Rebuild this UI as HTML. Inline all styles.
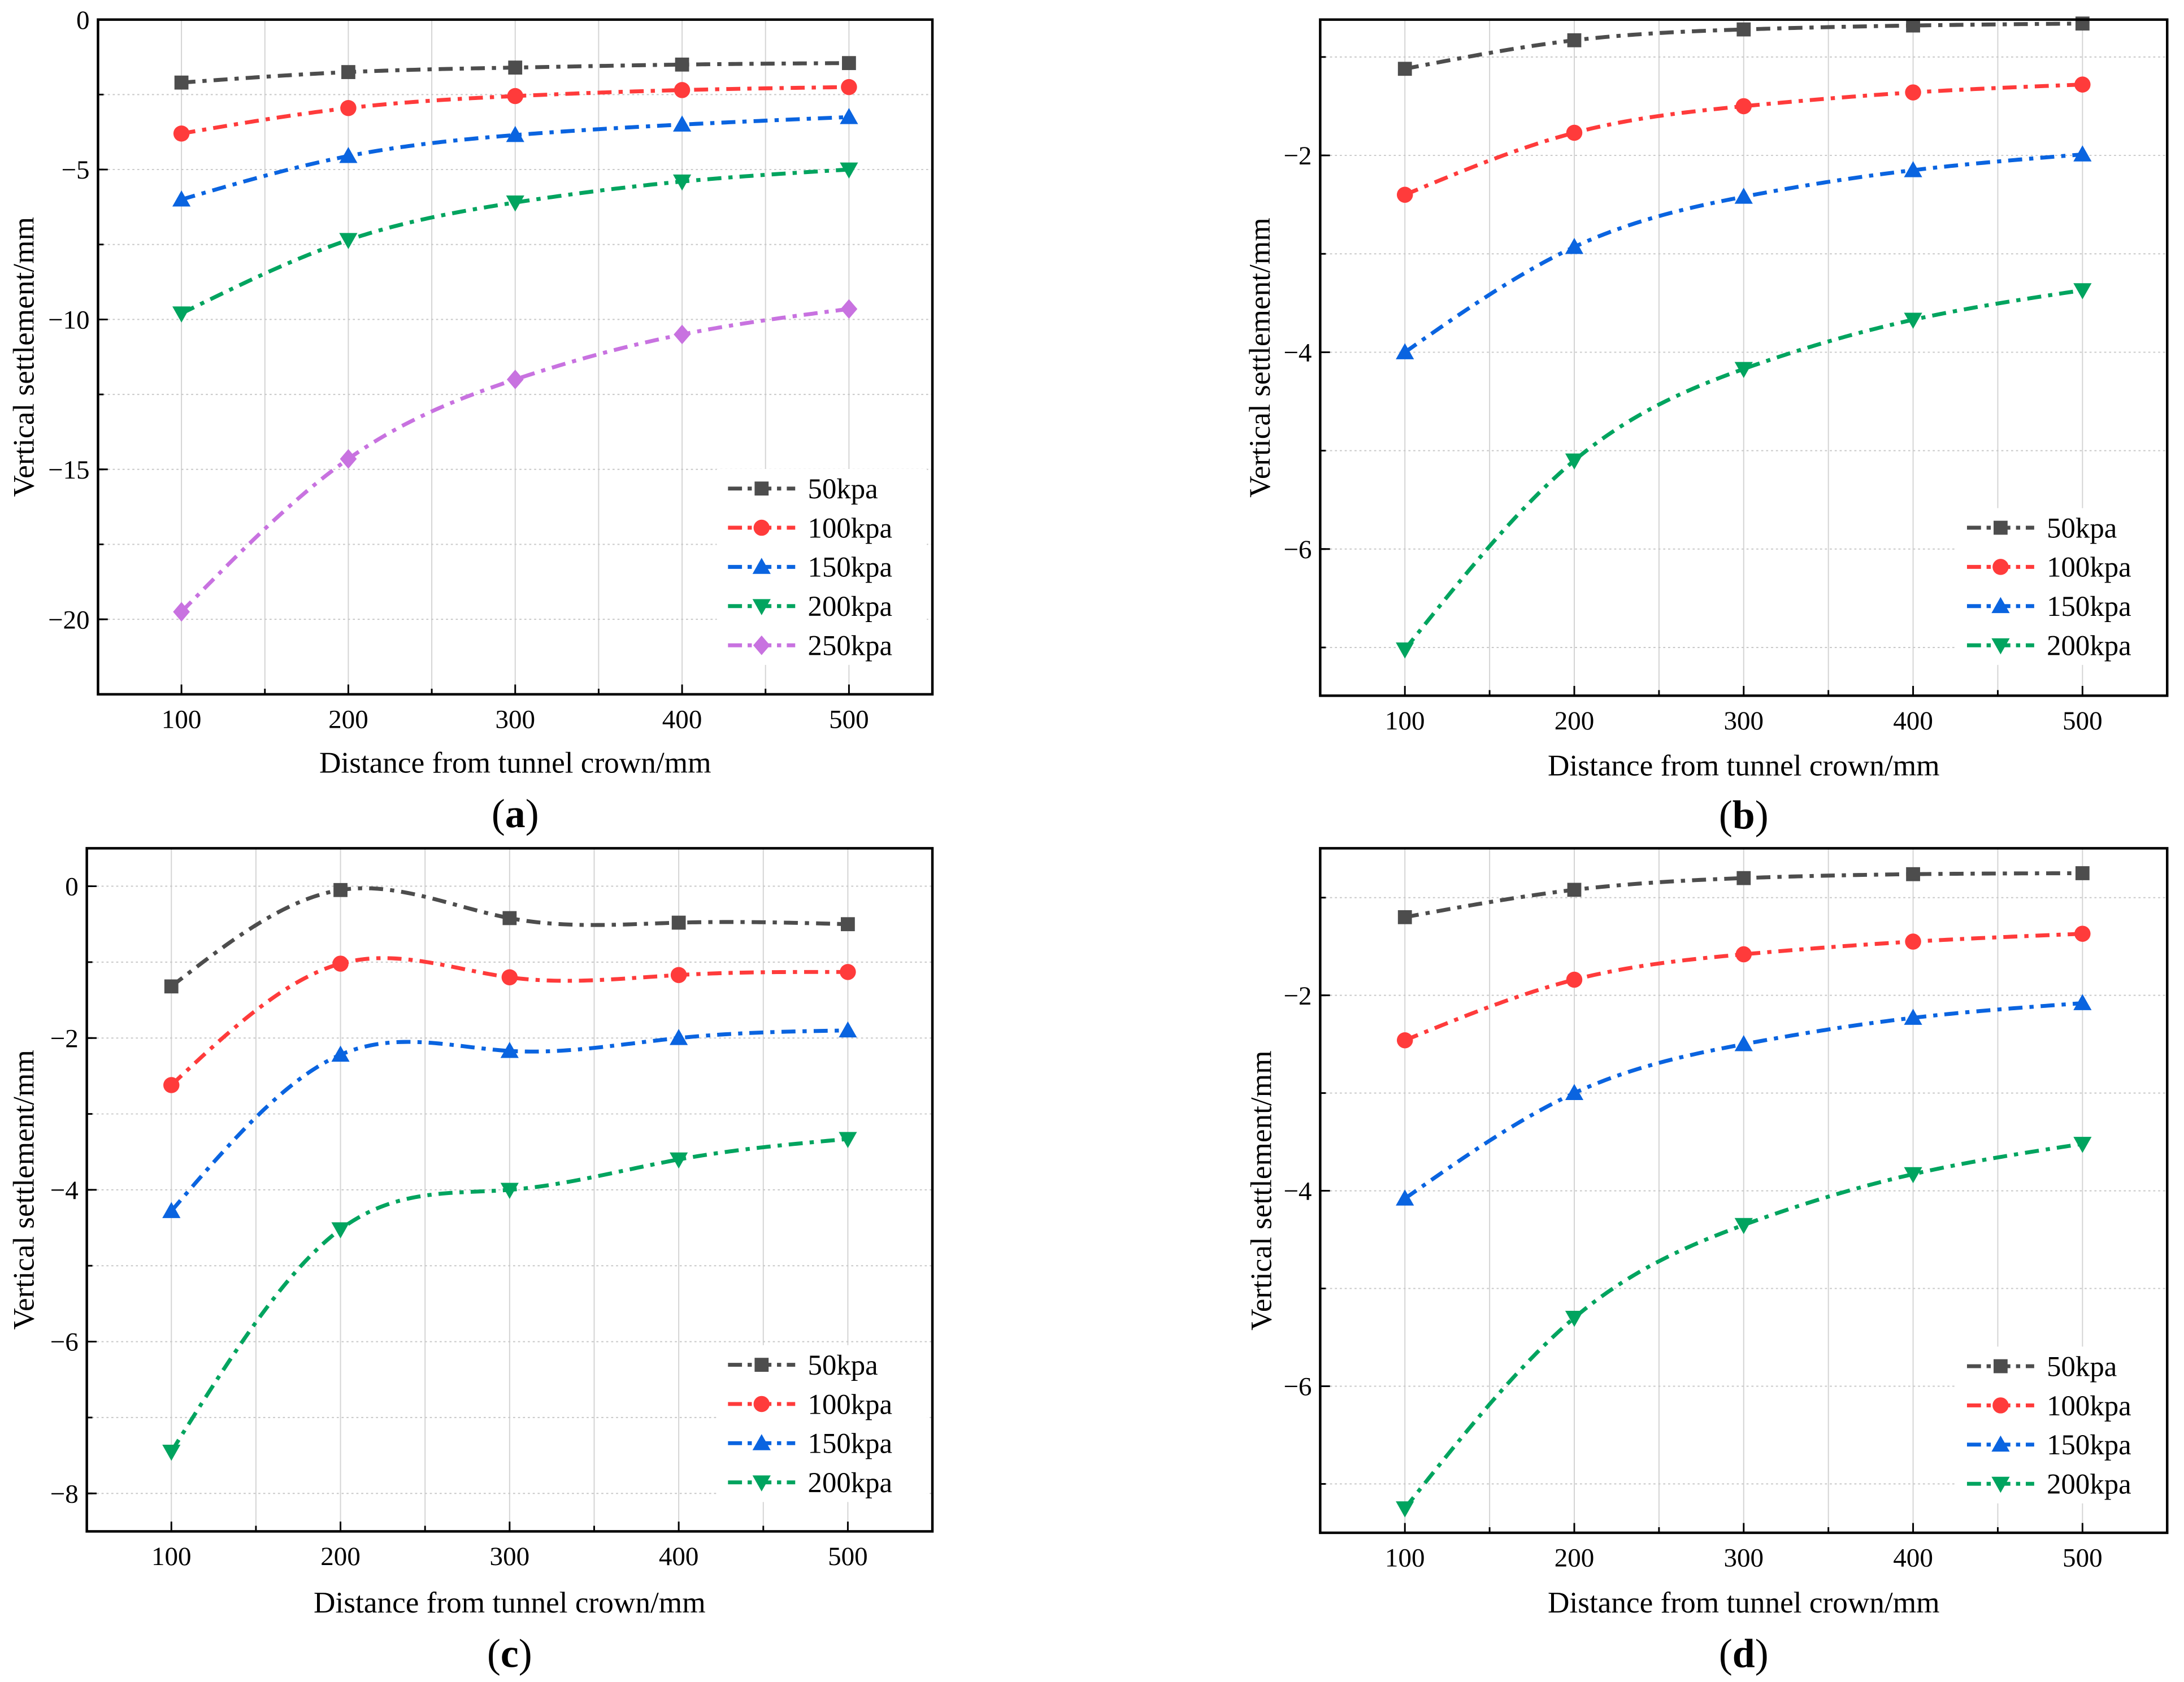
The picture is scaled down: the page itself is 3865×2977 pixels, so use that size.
<!DOCTYPE html>
<html><head><meta charset="utf-8"><style>html,body{margin:0;padding:0;background:#fff}svg{display:block}text{font-family:"Liberation Serif",serif;fill:#000}</style></head>
<body>
<svg id="fig" width="3865" height="2977" viewBox="0 0 1560 1201.6" xmlns="http://www.w3.org/2000/svg"></svg>
<script>
const xCats=[100,200,300,400,500];
const seriesNames=["50kpa","100kpa","150kpa","200kpa","250kpa"];
const aS50=[-2.1,-1.75,-1.6,-1.5,-1.45];
const aS100=[-3.8,-2.95,-2.55,-2.35,-2.25];
const aS150=[-6.0,-4.55,-3.85,-3.5,-3.25];
const aS200=[-9.8,-7.35,-6.1,-5.4,-5.0];
const aS250=[-19.75,-14.65,-12.0,-10.5,-9.65];
const bS50=[-1.12,-0.83,-0.72,-0.68,-0.66];
const bS100=[-2.4,-1.77,-1.5,-1.36,-1.28];
const bS150=[-4.0,-2.93,-2.42,-2.15,-1.99];
const bS200=[-7.02,-5.1,-4.17,-3.67,-3.37];
const cS50=[-1.32,-0.05,-0.42,-0.48,-0.5];
const cS100=[-2.62,-1.02,-1.2,-1.17,-1.13];
const cS150=[-4.28,-2.22,-2.17,-2.0,-1.9];
const cS200=[-7.45,-4.52,-4.0,-3.6,-3.33];
const dS50=[-1.2,-0.92,-0.8,-0.76,-0.75];
const dS100=[-2.46,-1.84,-1.58,-1.45,-1.37];
const dS150=[-4.08,-3.0,-2.5,-2.23,-2.08];
const dS200=[-7.25,-5.3,-4.35,-3.83,-3.52];
const aYTicks=[0,-5,-10,-15,-20];
const bYTicks=[-2,-4,-6];
const cYTicks=[0,-2,-4,-6,-8];
const dYTicks=[-2,-4,-6];

const colors=["#4d4d4d","#ff3b3b","#0a64e0","#00a45f","#c872e0"];
const shapes=["square","circle","up","down","diamond"];
const NS="http://www.w3.org/2000/svg";
const svg=document.getElementById('fig');
function mk(tag,attrs,parent){const e=document.createElementNS(NS,tag);for(const k in attrs)e.setAttribute(k,attrs[k]);(parent||svg).appendChild(e);return e;}

function spline(xs,ys){const n=xs.length;const h=[],al=[],l=[1],mu=[0],z=[0];
 for(let i=0;i<n-1;i++)h.push(xs[i+1]-xs[i]);
 for(let i=1;i<n-1;i++)al[i]=3/h[i]*(ys[i+1]-ys[i])-3/h[i-1]*(ys[i]-ys[i-1]);
 for(let i=1;i<n-1;i++){l[i]=2*(xs[i+1]-xs[i-1])-h[i-1]*mu[i-1];mu[i]=h[i]/l[i];z[i]=(al[i]-h[i-1]*z[i-1])/l[i];}
 const c=new Array(n).fill(0),b=[],d=[];
 for(let j=n-2;j>=0;j--){c[j]=z[j]-mu[j]*c[j+1];b[j]=(ys[j+1]-ys[j])/h[j]-h[j]*(c[j+1]+2*c[j])/3;d[j]=(c[j+1]-c[j])/(3*h[j]);}
 return x=>{let j=xs.findIndex((v,i)=>i<n-1&&x<=xs[i+1]);if(j<0)j=n-2;const t=x-xs[j];return ys[j]+b[j]*t+c[j]*t*t+d[j]*t*t*t;};}

function marker(g,shape,cx,cy,col,s){
 if(shape==="square")mk('rect',{x:cx-s,y:cy-s,width:2*s,height:2*s,fill:col},g);
 else if(shape==="circle")mk('circle',{cx:cx,cy:cy,r:s*1.15,fill:col},g);
 else if(shape==="up")mk('polygon',{points:`${cx},${cy-s*1.3} ${cx-s*1.3},${cy+s} ${cx+s*1.3},${cy+s}`,fill:col},g);
 else if(shape==="down")mk('polygon',{points:`${cx},${cy+s*1.3} ${cx-s*1.3},${cy-s} ${cx+s*1.3},${cy-s}`,fill:col},g);
 else mk('polygon',{points:`${cx},${cy-s*1.4} ${cx+s*1.2},${cy} ${cx},${cy+s*1.4} ${cx-s*1.2},${cy}`,fill:col},g);}

function fmt(v){return v<0?"\u2212"+(-v):""+v;}
const DASH="10 5 3 5";

function panel(p){
 const g=mk('g',{});
 
 
 const X=v=>p.L+(v-50)/500*(p.R-p.L);
 const Y=v=>p.T+(p.ymax-v)/(p.ymax-p.ymin)*(p.B-p.T);
 for(let v=100;v<=500;v+=50){const gl=mk('line',{x1:X(v),x2:X(v),y1:p.T,y2:p.B,stroke:"#d4d4d4","stroke-width":0.8},g);
  }
 for(let v=Math.ceil(p.ymin/p.minor)*p.minor;v<=p.ymax+1e-9;v+=p.minor){if(Y(v)<=p.T+1||Y(v)>=p.B-1)continue;
  const gl=mk('line',{x1:p.L,x2:p.R,y1:Y(v),y2:Y(v),stroke:"#c8c8c8","stroke-width":0.8,"stroke-dasharray":"1.5 2"},g);
  
  mk('line',{x1:p.L,x2:p.L+4,y1:Y(v),y2:Y(v),stroke:"#000","stroke-width":1.2},g);}
 for(let v=150;v<=450;v+=100)mk('line',{x1:X(v),x2:X(v),y1:p.B,y2:p.B-4,stroke:"#000","stroke-width":1.2},g);
 p.series.forEach((ys,i)=>{
  const f=spline(xCats,ys);let d="";
  for(let x=100;x<=500;x+=2){d+=(x===100?"M":"L")+X(x).toFixed(2)+","+Y(f(x)).toFixed(2);}
  const sg=mk('g',{},g);
  
  mk('path',{d:d,fill:"none",stroke:colors[i],"stroke-width":2.8,"stroke-dasharray":DASH},sg);
  xCats.forEach((x,k)=>{marker(sg,shapes[i],X(x),Y(ys[k]),colors[i],5);});
 });
 const lg=mk('g',{},g);
 
 mk('rect',{x:p.lx-8,y:p.ly-14,width:150,height:p.series.length*28,fill:"#fff"},lg);
 p.series.forEach((ys,i)=>{const yy=p.ly+i*28;
  const e=mk('g',{},lg);
  mk('line',{x1:p.lx,x2:p.lx+48,y1:yy,y2:yy,stroke:colors[i],"stroke-width":2.8,"stroke-dasharray":"10 4 3 4"},e);
  marker(e,shapes[i],p.lx+24,yy,colors[i],5);
  const t=mk('text',{x:p.lx+57,y:yy+7,"font-size":20.5},e);t.textContent=seriesNames[i];});
 const fr=mk('rect',{x:p.L,y:p.T,width:p.R-p.L,height:p.B-p.T,fill:"none",stroke:"#000","stroke-width":1.8},g);
 
 xCats.forEach(v=>{mk('line',{x1:X(v),x2:X(v),y1:p.B,y2:p.B-7,stroke:"#000","stroke-width":1.2},g);
  const t=mk('text',{x:X(v),y:p.B+24,"font-size":19,"text-anchor":"middle"},g);t.textContent=v;
  });
 p.yt.forEach(v=>{mk('line',{x1:p.L,x2:p.L+7,y1:Y(v),y2:Y(v),stroke:"#000","stroke-width":1.2},g);
  const t=mk('text',{x:p.L-6,y:Y(v)+6.5,"font-size":19,"text-anchor":"end"},g);t.textContent=fmt(v);
  });
 const xt=mk('text',{x:(p.L+p.R)/2,y:p.xly,"font-size":21.5,"text-anchor":"middle"},g);xt.textContent="Distance from tunnel crown/mm";
 
 const yc=(p.T+p.B)/2;
 const yt=mk('text',{x:p.ylx,y:yc,"font-size":21.5,"text-anchor":"middle",transform:`rotate(-90 ${p.ylx} ${yc})`},g);yt.textContent="Vertical settlement/mm";
 
 const cap=mk('text',{x:(p.L+p.R)/2,y:p.capy,"font-size":29,"text-anchor":"middle"},g);
 cap.innerHTML='(<tspan font-weight="bold">'+p.id+'</tspan>)';
 
}
panel({id:"a",L:70,R:666,T:14,B:496,ymin:-22.5,ymax:0,minor:2.5,yt:aYTicks,series:[aS50,aS100,aS150,aS200,aS250],lx:520,ly:349,xly:552,ylx:24,capy:591});
panel({id:"b",L:943,R:1548,T:14,B:497,ymin:-7.49,ymax:-0.62,minor:1,yt:bYTicks,series:[bS50,bS100,bS150,bS200],lx:1405,ly:377,xly:554,ylx:907,capy:592});
panel({id:"c",L:62,R:666,T:606,B:1094,ymin:-8.5,ymax:0.5,minor:1,yt:cYTicks,series:[cS50,cS100,cS150,cS200],lx:520,ly:975,xly:1152,ylx:24,capy:1191});
panel({id:"d",L:943,R:1548,T:606,B:1095,ymin:-7.5,ymax:-0.495,minor:1,yt:dYTicks,series:[dS50,dS100,dS150,dS200],lx:1405,ly:976,xly:1152,ylx:908,capy:1191});
</script>
</body></html>
